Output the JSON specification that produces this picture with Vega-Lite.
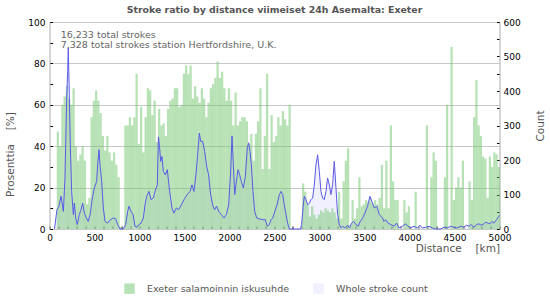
{
  "$schema": "https://vega.github.io/schema/vega-lite/v6.json",
  "width": 450,
  "height": 207,
  "autosize": {"type": "none"},
  "padding": {"left": 49.5, "top": 22, "right": 50.5, "bottom": 71},
  "background": "white",
  "config": {
    "font": "DejaVu Sans",
    "view": {"stroke": "#c8c8c8"},
    "axis": {
      "labelFont": "DejaVu Sans", "labelFontSize": 9, "labelColor": "#000",
      "titleFont": "DejaVu Sans", "titleFontSize": 10.5, "titleFontWeight": "normal", "titleColor": "#555",
      "domainColor": "#c8c8c8", "tickColor": "#000", "tickSize": -3, "grid": false
    }
  },
  "title": {
    "text": "Stroke ratio by distance viimeiset 24h Asemalta: Exeter",
    "anchor": "middle", "frame": "group", "font": "DejaVu Sans",
    "fontSize": 9.4, "fontWeight": "bold", "color": "#555", "offset": 3
  },
  "datasets": {
    "bars": [
      {"d":75,"pct":47},{"d":100,"pct":40},{"d":125,"pct":60},{"d":150,"pct":64},{"d":175,"pct":69},{"d":200,"pct":63},{"d":225,"pct":60},{"d":250,"pct":68},{"d":275,"pct":40},{"d":300,"pct":33},{"d":325,"pct":36},{"d":350,"pct":40},{"d":375,"pct":33},{"d":400,"pct":12},{"d":425,"pct":15},{"d":450,"pct":54},{"d":475,"pct":62},{"d":500,"pct":67},{"d":525,"pct":62},{"d":550,"pct":56},{"d":575,"pct":45},{"d":600,"pct":38},{"d":625,"pct":45},{"d":650,"pct":37},{"d":675,"pct":33},{"d":700,"pct":37},{"d":725,"pct":31},{"d":750,"pct":25},{"d":775,"pct":1},
      {"d":825,"pct":50},{"d":850,"pct":50},{"d":875,"pct":54},{"d":900,"pct":50},{"d":925,"pct":54},{"d":950,"pct":75},{"d":975,"pct":41},{"d":1000,"pct":59},{"d":1025,"pct":37},{"d":1050,"pct":54},{"d":1075,"pct":68},{"d":1100,"pct":67},{"d":1125,"pct":55},{"d":1150,"pct":62},{"d":1175,"pct":42},{"d":1200,"pct":58},
      {"d":1225,"pct":50},{"d":1250,"pct":51},{"d":1275,"pct":45},{"d":1300,"pct":58},{"d":1325,"pct":62},{"d":1350,"pct":63},{"d":1375,"pct":68},{"d":1400,"pct":68},{"d":1425,"pct":59},{"d":1450,"pct":60},{"d":1475,"pct":75},{"d":1500,"pct":79},{"d":1525,"pct":75},{"d":1550,"pct":79},{"d":1575,"pct":63},{"d":1600,"pct":69},{"d":1625,"pct":64},{"d":1650,"pct":61},{"d":1675,"pct":68},{"d":1700,"pct":63},{"d":1725,"pct":54},{"d":1750,"pct":61},{"d":1775,"pct":68},{"d":1800,"pct":70},{"d":1825,"pct":73},{"d":1850,"pct":81},{"d":1875,"pct":73},{"d":1900,"pct":76},{"d":1925,"pct":68},{"d":1950,"pct":62},{"d":1975,"pct":68},
      {"d":2000,"pct":62},{"d":2025,"pct":50},{"d":2050,"pct":66},{"d":2075,"pct":50},{"d":2100,"pct":52},{"d":2125,"pct":54},{"d":2150,"pct":54},{"d":2175,"pct":52},{"d":2200,"pct":41},{"d":2225,"pct":46},{"d":2250,"pct":33},{"d":2275,"pct":46},{"d":2300,"pct":52},{"d":2325,"pct":68},{"d":2350,"pct":29},{"d":2375,"pct":45},{"d":2400,"pct":75},{"d":2425,"pct":29},{"d":2450,"pct":55},{"d":2475,"pct":42},{"d":2500,"pct":45},{"d":2525,"pct":54},{"d":2550,"pct":50},{"d":2575,"pct":57},{"d":2600,"pct":53},{"d":2625,"pct":50},{"d":2650,"pct":60},
      {"d":2800,"pct":22},{"d":2825,"pct":18},{"d":2850,"pct":12},{"d":2875,"pct":6},{"d":2900,"pct":11},{"d":2925,"pct":7},{"d":2950,"pct":5},{"d":2975,"pct":7},{"d":3000,"pct":9},{"d":3025,"pct":8},{"d":3050,"pct":10},{"d":3075,"pct":9},{"d":3100,"pct":8},{"d":3125,"pct":10},{"d":3150,"pct":8},{"d":3175,"pct":5},{"d":3200,"pct":18},{"d":3225,"pct":5},{"d":3250,"pct":23},{"d":3275,"pct":33},{"d":3300,"pct":39},{"d":3325,"pct":2},{"d":3350,"pct":14},{"d":3375,"pct":5},{"d":3400,"pct":10},{"d":3425,"pct":25},{"d":3450,"pct":11},{"d":3475,"pct":12},{"d":3500,"pct":14},{"d":3525,"pct":13},{"d":3550,"pct":15},{"d":3575,"pct":12},{"d":3600,"pct":14},{"d":3625,"pct":12},{"d":3650,"pct":15},{"d":3675,"pct":31},{"d":3700,"pct":10},{"d":3725,"pct":33},{"d":3750,"pct":10},{"d":3775,"pct":50},{"d":3800,"pct":23},{"d":3825,"pct":14},{"d":3850,"pct":14},{"d":3925,"pct":14},{"d":3950,"pct":8},{"d":3975,"pct":11},
      {"d":4050,"pct":18},{"d":4175,"pct":50},{"d":4225,"pct":25},{"d":4250,"pct":37},{"d":4275,"pct":33},{"d":4375,"pct":25},{"d":4400,"pct":60},{"d":4450,"pct":88},{"d":4475,"pct":14},{"d":4500,"pct":20},{"d":4525,"pct":25},{"d":4550,"pct":20},{"d":4575,"pct":33},{"d":4650,"pct":23},{"d":4675,"pct":14},{"d":4700,"pct":54},{"d":4725,"pct":72},{"d":4750,"pct":50},{"d":4775,"pct":45},{"d":4800,"pct":35},{"d":4825,"pct":34},{"d":4850,"pct":15},{"d":4875,"pct":35},{"d":4900,"pct":30},{"d":4925,"pct":37},{"d":4950,"pct":36},{"d":4975,"pct":30}
    ],
    "line": [
      {"d":55,"c":0},{"d":83,"c":56},{"d":105,"c":66},{"d":128,"c":95},{"d":154,"c":51},{"d":172,"c":148},{"d":191,"c":380},{"d":202,"c":457},{"d":209,"c":525},{"d":220,"c":390},{"d":231,"c":245},{"d":246,"c":109},{"d":265,"c":42},{"d":276,"c":75},{"d":291,"c":32},{"d":309,"c":13},{"d":331,"c":42},{"d":350,"c":56},{"d":369,"c":75},{"d":387,"c":46},{"d":409,"c":32},{"d":431,"c":22},{"d":454,"c":46},{"d":476,"c":90},{"d":498,"c":119},{"d":524,"c":138},{"d":535,"c":186},{"d":550,"c":230},{"d":561,"c":186},{"d":580,"c":138},{"d":598,"c":61},{"d":617,"c":22},{"d":646,"c":17},{"d":676,"c":27},{"d":709,"c":32},{"d":735,"c":30},{"d":757,"c":13},{"d":783,"c":0},{"d":820,"c":0},{"d":846,"c":13},{"d":869,"c":51},{"d":883,"c":66},{"d":906,"c":51},{"d":928,"c":42},{"d":950,"c":8},{"d":972,"c":5},{"d":994,"c":13},{"d":1017,"c":17},{"d":1043,"c":32},{"d":1061,"c":70},{"d":1080,"c":95},{"d":1106,"c":109},{"d":1128,"c":85},{"d":1154,"c":90},{"d":1172,"c":109},{"d":1198,"c":128},
      {"d":1210,"c":267},{"d":1222,"c":240},{"d":1236,"c":196},{"d":1250,"c":210},{"d":1265,"c":167},{"d":1287,"c":157},{"d":1309,"c":172},{"d":1335,"c":109},{"d":1361,"c":61},{"d":1383,"c":46},{"d":1409,"c":61},{"d":1435,"c":56},{"d":1465,"c":70},{"d":1494,"c":85},{"d":1531,"c":100},{"d":1561,"c":109},{"d":1583,"c":128},{"d":1605,"c":109},{"d":1627,"c":157},{"d":1646,"c":215},{"d":1665,"c":278},{"d":1680,"c":254},{"d":1702,"c":254},{"d":1724,"c":225},{"d":1746,"c":182},{"d":1768,"c":157},{"d":1790,"c":100},{"d":1813,"c":70},{"d":1835,"c":56},{"d":1857,"c":66},{"d":1880,"c":51},{"d":1909,"c":42},{"d":1939,"c":32},{"d":1965,"c":42},{"d":1991,"c":70},{"d":2013,"c":167},{"d":2028,"c":270},{"d":2043,"c":186},{"d":2058,"c":100},{"d":2076,"c":138},{"d":2095,"c":172},{"d":2113,"c":157},{"d":2132,"c":138},{"d":2154,"c":119},{"d":2176,"c":153},{"d":2198,"c":235},{"d":2213,"c":250},{"d":2228,"c":225},{"d":2243,"c":186},{"d":2261,"c":109},{"d":2280,"c":51},{"d":2302,"c":32},{"d":2335,"c":29},{"d":2372,"c":27},{"d":2398,"c":27},{"d":2420,"c":8},{"d":2443,"c":13},
      {"d":2461,"c":27},{"d":2480,"c":32},{"d":2498,"c":46},{"d":2528,"c":70},{"d":2554,"c":100},{"d":2572,"c":109},{"d":2591,"c":100},{"d":2609,"c":70},{"d":2628,"c":42},{"d":2646,"c":17},{"d":2665,"c":0},{"d":2790,"c":0},{"d":2801,"c":13},{"d":2820,"c":70},{"d":2831,"c":95},{"d":2850,"c":85},{"d":2868,"c":70},{"d":2887,"c":75},{"d":2905,"c":85},{"d":2924,"c":90},{"d":2942,"c":128},{"d":2961,"c":186},{"d":2979,"c":215},{"d":2998,"c":167},{"d":3016,"c":109},{"d":3035,"c":90},{"d":3053,"c":85},{"d":3072,"c":109},{"d":3090,"c":148},{"d":3109,"c":128},{"d":3127,"c":100},{"d":3146,"c":128},{"d":3164,"c":196},{"d":3183,"c":119},{"d":3201,"c":42},{"d":3220,"c":13},{"d":3238,"c":3},{"d":3257,"c":8},{"d":3282,"c":3},{"d":3312,"c":11},{"d":3334,"c":3},{"d":3356,"c":17},{"d":3379,"c":22},{"d":3405,"c":13},{"d":3430,"c":8},{"d":3453,"c":22},{"d":3479,"c":32},{"d":3504,"c":46},{"d":3534,"c":66},{"d":3560,"c":95},{"d":3582,"c":80},{"d":3608,"c":61},{"d":3638,"c":66},{"d":3664,"c":42},{"d":3701,"c":32},
      {"d":3717,"c":22},{"d":3735,"c":27},{"d":3761,"c":17},{"d":3791,"c":13},{"d":3828,"c":8},{"d":3857,"c":17},{"d":3883,"c":3},{"d":3920,"c":8},{"d":3957,"c":15},{"d":3983,"c":8},{"d":4013,"c":3},{"d":4050,"c":8},{"d":4087,"c":3},{"d":4116,"c":11},{"d":4142,"c":3},{"d":4179,"c":5},{"d":4216,"c":8},{"d":4253,"c":3},{"d":4290,"c":0},{"d":4346,"c":0},{"d":4383,"c":5},{"d":4420,"c":3},{"d":4457,"c":8},{"d":4494,"c":5},{"d":4531,"c":3},{"d":4568,"c":8},{"d":4605,"c":5},{"d":4634,"c":11},{"d":4660,"c":8},{"d":4686,"c":13},{"d":4716,"c":5},{"d":4745,"c":13},{"d":4771,"c":15},{"d":4797,"c":11},{"d":4827,"c":15},{"d":4845,"c":20},{"d":4871,"c":17},{"d":4893,"c":15},{"d":4916,"c":22},{"d":4938,"c":17},{"d":4967,"c":27},{"d":4993,"c":37},{"d":5000,"c":40}
    ],
    "notes": [{"label": "16,233 total strokes", "row": 1}, {"label": "7,328 total strokes station Hertfordshire, U.K.", "row": 2}]
  },
  "layer": [
    {
      "data": {"name": "line"},
      "mark": {"type": "area", "opacity": 0.5, "interpolate": "linear"},
      "encoding": {
        "x": {"field": "d", "type": "quantitative", "scale": {"domain": [0, 5000], "nice": false},
          "axis": {"values": [0,100,200,300,400,500,600,700,800,900,1000,1100,1200,1300,1400,1500,1600,1700,1800,1900,2000,2100,2200,2300,2400,2500,2600,2700,2800,2900,3000,3100,3200,3300,3400,3500,3600,3700,3800,3900,4000,4100,4200,4300,4400,4500,4600,4700,4800,4900,5000],
            "format": "d", "labelExpr": "datum.value % 500 === 0 ? datum.label : ''", "labelPadding": 7, "labelOverlap": false, "labelFlush": false,
            "title": "Distance\u2003 [km]", "titleAnchor": "end", "titleAlign": "right", "titlePadding": 1}},
        "y": {"field": "c", "type": "quantitative", "scale": {"domain": [0, 600], "nice": false},
          "axis": {"orient": "right", "values": [0,50,100,150,200,250,300,350,400,450,500,550,600], "format": "d",
            "labelExpr": "datum.value % 100 === 0 ? datum.label : ''", "labelPadding": 6.5,
            "title": "Count", "titleAngle": 270, "titleX": 40.5, "titleY": 103.5, "titleAlign": "center", "titleBaseline": "middle"}},
        "color": {"datum": "Whole stroke count", "type": "nominal",
          "scale": {"domain": ["Exeter salamoinnin iskusuhde", "Whole stroke count"], "range": ["#6fc56b", "#e1e1ff"]},
          "legend": {"orient": "none", "direction": "horizontal", "legendX": 74.5, "legendY": 261, "title": null,
            "symbolType": "square", "symbolSize": 110, "symbolOpacity": 0.5, "symbolStrokeWidth": 0,
            "labelFont": "DejaVu Sans", "labelFontSize": 9.5, "labelColor": "#555", "labelOffset": 12, "columnPadding": 23}}
      }
    },
    {
      "data": {"name": "bars"},
      "mark": {"type": "bar", "opacity": 0.5, "binSpacing": 0},
      "encoding": {
        "x": {"field": "d", "type": "quantitative", "bin": {"step": 25, "extent": [0, 5000]}, "scale": {"domain": [0, 5000], "nice": false},
          "axis": {"values": [0,100,200,300,400,500,600,700,800,900,1000,1100,1200,1300,1400,1500,1600,1700,1800,1900,2000,2100,2200,2300,2400,2500,2600,2700,2800,2900,3000,3100,3200,3300,3400,3500,3600,3700,3800,3900,4000,4100,4200,4300,4400,4500,4600,4700,4800,4900,5000],
            "format": "d", "labelExpr": "datum.value % 500 === 0 ? datum.label : ''", "labelPadding": 7, "labelOverlap": false, "labelFlush": false,
            "title": "Distance\u2003 [km]", "titleAnchor": "end", "titleAlign": "right", "titlePadding": 1}},
        "y": {"field": "pct", "type": "quantitative", "scale": {"domain": [0, 100], "nice": false},
          "axis": {"orient": "left", "values": [0,10,20,30,40,50,60,70,80,90,100], "format": "d",
            "labelExpr": "datum.value % 20 === 0 ? datum.label : ''", "labelPadding": 7.5,
            "grid": true, "gridColor": "#c8c8c8",
            "gridOpacity": {"condition": {"test": "datum.value % 20 === 0", "value": 1}, "value": 0},
            "title": "Prosenttia\u2003 [%]", "titleAngle": 270, "titleX": -39.5, "titleY": 132, "titleAlign": "center", "titleBaseline": "middle"}},
        "color": {"datum": "Exeter salamoinnin iskusuhde", "type": "nominal"}
      }
    },
    {
      "data": {"name": "line"},
      "mark": {"type": "line", "color": "#5a5ae6", "strokeWidth": 1, "interpolate": "linear"},
      "encoding": {
        "x": {"field": "d", "type": "quantitative", "scale": {"domain": [0, 5000], "nice": false},
          "axis": {"values": [0,100,200,300,400,500,600,700,800,900,1000,1100,1200,1300,1400,1500,1600,1700,1800,1900,2000,2100,2200,2300,2400,2500,2600,2700,2800,2900,3000,3100,3200,3300,3400,3500,3600,3700,3800,3900,4000,4100,4200,4300,4400,4500,4600,4700,4800,4900,5000],
            "format": "d", "labelExpr": "datum.value % 500 === 0 ? datum.label : ''", "labelPadding": 7, "labelOverlap": false, "labelFlush": false,
            "title": "Distance\u2003 [km]", "titleAnchor": "end", "titleAlign": "right", "titlePadding": 1}},
        "y": {"field": "c", "type": "quantitative", "scale": {"domain": [0, 600], "nice": false}, "axis": null}
      }
    },
    {
      "data": {"name": "notes"},
      "mark": {"type": "text", "align": "left", "baseline": "alphabetic", "font": "DejaVu Sans", "fontSize": 9.5, "color": "#666"},
      "encoding": {
        "text": {"field": "label"},
        "x": {"datum": 124, "type": "quantitative"},
        "y": {"field": "row", "type": "quantitative", "scale": {"domain": [-0.57, 20.13], "nice": false, "zero": false, "reverse": true}, "axis": null}
      }
    }
  ],
  "resolve": {"scale": {"y": "independent"}}
}
